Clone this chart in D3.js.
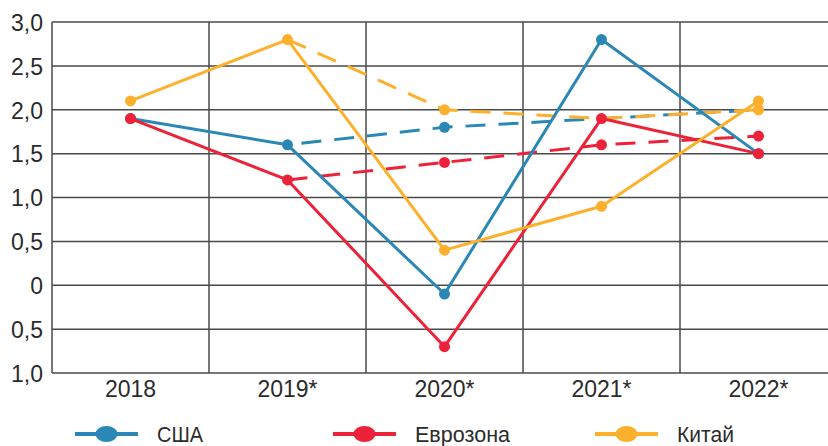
<!DOCTYPE html>
<html>
<head>
<meta charset="utf-8">
<script src="https://cdn.jsdelivr.net/npm/d3@7"></script>
<style>
  html, body { margin: 0; padding: 0; background: #fff; }
  svg { display: block; }
  text { font-family: "Liberation Sans", Arial, sans-serif; fill: #2b2b2b; }
</style>
</head>
<body>
<svg id="chart" width="828" height="446"></svg>
<script>
// Годы (прогнозные отмечены звёздочкой)
const years = ["2018", "2019*", "2020*", "2021*", "2022*"];

// Фактические/прогнозные значения роста ВВП, %
const usa      = [1.9, 1.6, -0.1, 2.8, 1.5];
const eurozone = [1.9, 1.2, -0.7, 1.9, 1.5];
const china    = [2.1, 2.8, 0.4, 0.9, 2.1];

// Прежние прогнозы (пунктир), начиная с 2019*
const usaPrev      = [null, 1.6, 1.8, 1.9, 2.0];
const eurozonePrev = [null, 1.2, 1.4, 1.6, 1.7];
const chinaPrev    = [null, 2.8, 2.0, 1.9, 2.0];

// Точки-маркеры на пунктирных линиях
const usaPrevDots      = [false, false, true, false, false];
const eurozonePrevDots = [false, false, true, true, true];
const chinaPrevDots    = [false, false, true, false, true];

// Деления оси Y и их подписи
const yTicks      = [3.0, 2.5, 2.0, 1.5, 1.0, 0.5, 0, -0.5, -1.0];
const yTickLabels = ["3,0", "2,5", "2,0", "1,5", "1,0", "0,5", "0", "0,5", "1,0"];

const seriesNames  = ["США", "Еврозона", "Китай"];
const seriesColors = ["#2b88b6", "#ec2239", "#fcb02b"];

const svg = d3.select("#chart");
const plotLeft = 52, plotRight = 837, plotTop = 22, plotBottom = 373;

const x = d3.scaleBand().domain(years).range([plotLeft, plotRight]).padding(0);
const y = d3.scaleLinear().domain([-1, 3]).range([plotBottom, plotTop]);
const cx = d => x(d) + x.bandwidth() / 2;

// Сетка
const grid = svg.append("g").attr("stroke", "#4a4a4a").attr("stroke-width", 1.5);
grid.selectAll("line.h").data(yTicks).join("line").attr("class", "h")
  .attr("x1", plotLeft).attr("x2", 828)
  .attr("y1", d => y(d)).attr("y2", d => y(d));
grid.selectAll("line.v").data(years).join("line").attr("class", "v")
  .attr("x1", d => x(d)).attr("x2", d => x(d))
  .attr("y1", plotTop).attr("y2", plotBottom);

// Подписи оси Y
const yAxis = d3.axisLeft(y).tickValues(yTicks)
  .tickFormat((d, i) => yTickLabels[i]).tickSize(0).tickPadding(9);
svg.append("g").attr("transform", `translate(${plotLeft},0)`).call(yAxis)
  .call(g => g.select(".domain").remove())
  .selectAll("text")
  .style("font-size", "23px").style("font-family", "'Liberation Sans', Arial, sans-serif")
  .attr("dy", "0.36em").attr("fill", "#2b2b2b");

// Подписи оси X
const xAxis = d3.axisBottom(x).tickSize(0).tickPadding(8);
svg.append("g").attr("transform", `translate(0,${plotBottom})`).call(xAxis)
  .call(g => g.select(".domain").remove())
  .selectAll("text")
  .style("font-size", "23px").style("font-family", "'Liberation Sans', Arial, sans-serif")
  .attr("fill", "#2b2b2b");

// Линии
const line = d3.line()
  .defined(d => d.v !== null)
  .x(d => cx(d.year)).y(d => y(d.v));

const toPoints = arr => arr.map((v, i) => ({ year: years[i], v }));

const prev = [usaPrev, eurozonePrev, chinaPrev];
const prevDots = [usaPrevDots, eurozonePrevDots, chinaPrevDots];
const actual = [usa, eurozone, china];

// Длина пунктирной линии до заданного года (для согласования фазы штрихов)
function lengthUpTo(arr, upto) {
  let len = 0, p = null;
  arr.forEach((v, i) => {
    if (v === null || i > upto) return;
    const q = [cx(years[i]), y(v)];
    if (p) len += Math.hypot(q[0] - p[0], q[1] - p[1]);
    p = q;
  });
  return len;
}
const dashPeriod = 33;
// США и Китай совпадают после 2021*: штрихи США сдвинуты под штрихи Китая
const dashOffsets = [
  (lengthUpTo(usaPrev, 3) - lengthUpTo(chinaPrev, 3)) % dashPeriod,
  0,
  0
];

// Пунктирные прогнозы
prev.forEach((arr, k) => {
  svg.append("path")
    .datum(toPoints(arr))
    .attr("fill", "none")
    .attr("stroke", seriesColors[k])
    .attr("stroke-width", 3)
    .attr("stroke-dasharray", "20,13")
    .attr("stroke-dashoffset", dashOffsets[k])
    .attr("d", line);
  svg.append("g").selectAll("circle")
    .data(toPoints(arr).filter((d, i) => prevDots[k][i]))
    .join("circle")
    .attr("cx", d => cx(d.year)).attr("cy", d => y(d.v))
    .attr("r", 5.5).attr("fill", seriesColors[k]);
});

// Сплошные линии
actual.forEach((arr, k) => {
  svg.append("path")
    .datum(toPoints(arr))
    .attr("fill", "none")
    .attr("stroke", seriesColors[k])
    .attr("stroke-width", 3)
    .attr("stroke-linejoin", "round")
    .attr("d", line);
  svg.append("g").selectAll("circle")
    .data(toPoints(arr))
    .join("circle")
    .attr("cx", d => cx(d.year)).attr("cy", d => y(d.v))
    .attr("r", 5.5).attr("fill", seriesColors[k]);
});

// Легенда
const legendX = [75, 333, 595];
const legendY = 434;
const lg = svg.append("g").selectAll("g").data(seriesNames).join("g")
  .attr("transform", (d, i) => `translate(${legendX[i]},${legendY})`);
lg.append("line").attr("x1", 0).attr("x2", 63).attr("y1", 0).attr("y2", 0)
  .attr("stroke", (d, i) => seriesColors[i]).attr("stroke-width", 4);
lg.append("ellipse").attr("cx", 31.5).attr("cy", 0).attr("rx", 11).attr("ry", 8)
  .attr("fill", (d, i) => seriesColors[i]);
lg.append("text").attr("x", 82).attr("y", 0).attr("dy", "0.36em")
  .style("font-size", "22px")
  .attr("textLength", (d, i) => [46, 95, 57][i])
  .attr("lengthAdjust", "spacingAndGlyphs")
  .text(d => d);
</script>
</body>
</html>
